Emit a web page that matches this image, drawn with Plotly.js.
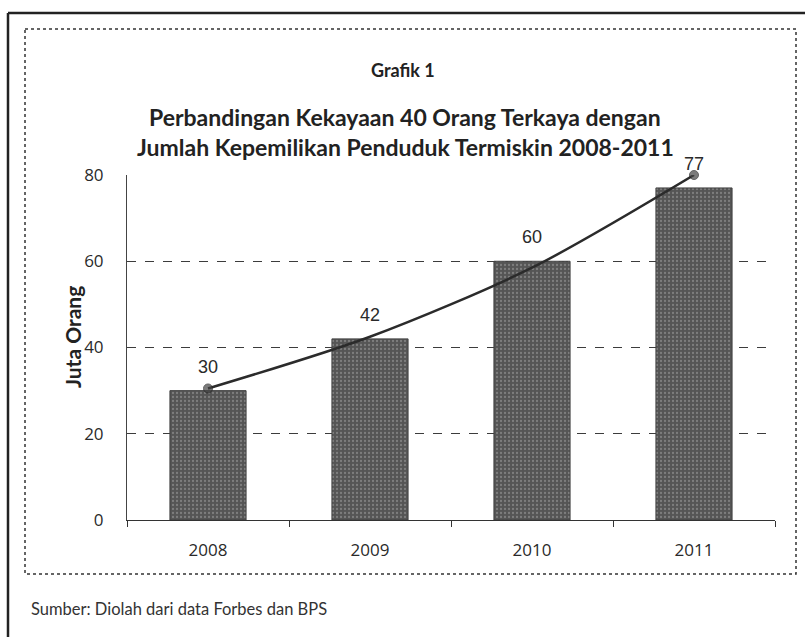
<!DOCTYPE html>
<html>
<head>
<meta charset="utf-8">
<script src="https://cdn.plot.ly/plotly-3.0.1.min.js"></script>
<style>
html,body{margin:0;padding:0;background:#fff;}
#chart{width:805px;height:637px;}
</style>
</head>
<body>
<div id="chart"></div>
<script>
// ---- data ----
const years = ["2008", "2009", "2010", "2011"];
const barValues = [30, 42, 60, 77];
const barLabels = ["30", "42", "60", "77"];
const trendValues = [30.5, 42.5, 58.5, 80];
const yTicks = [0, 20, 40, 60, 80];

const chartTitle = "Grafik 1";
const subTitle1 = "Perbandingan Kekayaan 40 Orang Terkaya dengan";
const subTitle2 = "Jumlah Kepemilikan Penduduk Termiskin 2008-2011";
const yTitle = "Juta Orang";
const sourceText = "Sumber: Diolah dari data Forbes dan BPS";

// ---- layout geometry (pixels) ----
const W = 805, H = 637;
const PL = 127, PR = 775, PT = 175, PB = 520;
const px = x => (x - PL) / (PR - PL);
const py = y => (PB - y) / (PB - PT);

const titleFont = "Lato, 'Open Sans', sans-serif";

const bars = {
  type: "bar",
  x: years,
  y: barValues,
  marker: {
    color: "#575757",
    line: {color: "#404040", width: 1},
    pattern: {shape: ".", fgcolor: "#7e7e7e", bgcolor: "#555555", fillmode: "replace", size: 4, solidity: 0.25}
  },
  hoverinfo: "skip",
  showlegend: false
};

const trend = {
  type: "scatter",
  mode: "lines+markers",
  x: years,
  y: trendValues,
  line: {color: "#2b2b2b", width: 2.5, shape: "spline", smoothing: 0.8},
  marker: {color: "#444", size: [9, 0, 0, 9], line: {color: "#222", width: 1}},
  cliponaxis: false,
  hoverinfo: "skip",
  showlegend: false
};

const annotations = years.map((yr, i) => ({
  x: i, y: barValues[i], xref: "x", yref: "y",
  text: barLabels[i], showarrow: false, yshift: 24,
  xanchor: "center", yanchor: "middle",
  font: {family: "'Liberation Sans', Arial, sans-serif", size: 18, color: "#2a2a2a"}
}));

const paperNote = (x, y, text, size, extra) => Object.assign({
  x: px(x), y: py(y), xref: "paper", yref: "paper", text: text,
  showarrow: false, xanchor: "center", yanchor: "middle",
  font: {family: titleFont, size: size, color: "#222"}
}, extra || {});

annotations.push(
  paperNote(403, 70, "<b>" + chartTitle + "</b>", 18),
  paperNote(405, 117, "<b>" + subTitle1 + "</b>", 23),
  paperNote(405, 147, "<b>" + subTitle2 + "</b>", 23),
  paperNote(72, 337, "<b>" + yTitle + "</b>", 21, {textangle: -90}),
  paperNote(29, 609, sourceText, 16.5, {xanchor: "left", font: {family: titleFont, size: 16.5, color: "#333"}})
);

const shapes = [
  {type: "line", xref: "paper", yref: "paper", x0: px(8), x1: px(805), y0: py(13), y1: py(13),
   line: {color: "#222", width: 2.5}},
  {type: "line", xref: "paper", yref: "paper", x0: px(8), x1: px(8), y0: py(13), y1: py(640),
   line: {color: "#222", width: 2.5}},
  {type: "rect", xref: "paper", yref: "paper", x0: px(25), x1: px(796), y0: py(29), y1: py(574),
   line: {color: "#333", width: 1.5, dash: "dot"}}
];

const layout = {
  width: W, height: H,
  margin: {l: PL, r: W - PR, t: PT, b: H - PB, pad: 0},
  paper_bgcolor: "#ffffff",
  plot_bgcolor: "rgba(0,0,0,0)",
  bargap: 0.53,
  xaxis: {
    type: "category",
    range: [-0.5, 3.5],
    tickson: "boundaries",
    ticks: "outside", ticklen: 6, tickcolor: "#333", tickwidth: 1,
    showline: true, linecolor: "#333", linewidth: 1,
    showgrid: false, zeroline: false,
    tickfont: {family: "'Open Sans', sans-serif", size: 17, color: "#2a2a2a"},
    ticklabelstandoff: 15,
    fixedrange: true
  },
  yaxis: {
    range: [0, 80],
    tickvals: yTicks,
    ticks: "",
    showline: true, linecolor: "#444", linewidth: 1,
    showgrid: true, gridcolor: "#3c3c3c", gridwidth: 1, griddash: "dash",
    zeroline: false,
    tickfont: {family: "'Open Sans', sans-serif", size: 17, color: "#2a2a2a"},
    ticklabelstandoff: 19,
    fixedrange: true
  },
  annotations: annotations,
  shapes: shapes
};

Plotly.newPlot("chart", [bars, trend], layout, {displayModeBar: false, staticPlot: true});
</script>
</body>
</html>
